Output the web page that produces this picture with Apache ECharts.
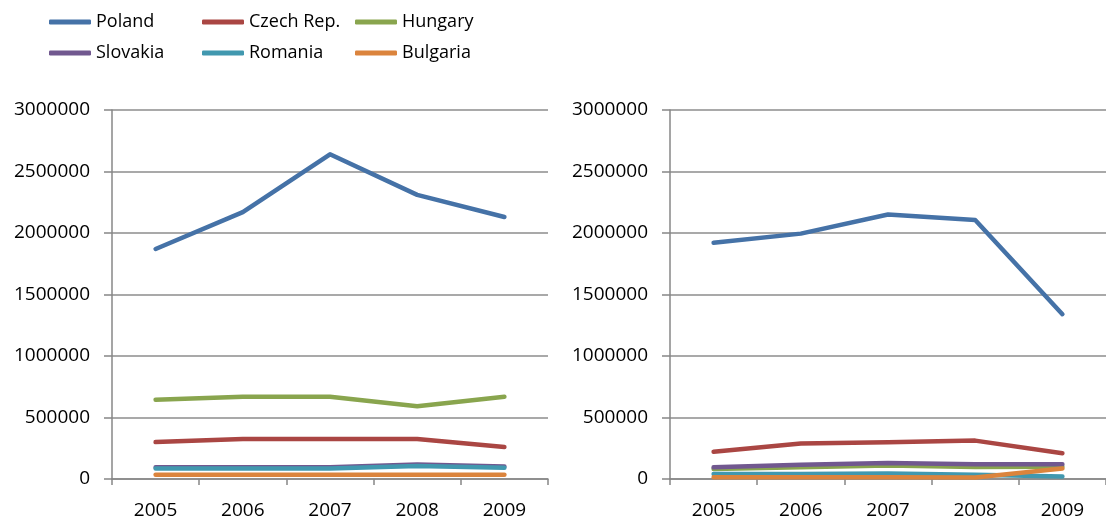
<!DOCTYPE html>
<html>
<head>
<meta charset="utf-8">
<script src="https://cdn.jsdelivr.net/npm/echarts@6/dist/echarts.min.js"></script>
<style>html,body{margin:0;padding:0;background:#fff}#c{width:1106px;height:520px}</style>
</head>
<body>
<div id="c"></div>
<script>
const years = ['2005', '2006', '2007', '2008', '2009'];
const countries = ['Poland', 'Czech Rep.', 'Hungary', 'Slovakia', 'Romania', 'Bulgaria'];
const colors = ['#4572A7', '#AA4643', '#89A54E', '#71588F', '#4198AF', '#DB843D'];

// Left panel
const leftPoland   = [1870000, 2170000, 2640000, 2310000, 2130000];
const leftCzech    = [300000, 325000, 325000, 325000, 260000];
const leftHungary  = [645000, 668000, 668000, 592000, 668000];
const leftSlovakia = [95000, 95000, 95000, 118000, 102000];
const leftRomania  = [85000, 85000, 85000, 105000, 92000];
const leftBulgaria = [35000, 35000, 35000, 35000, 35000];

// Right panel
const rightPoland   = [1920000, 1995000, 2150000, 2105000, 1340000];
const rightCzech    = [222000, 288000, 298000, 312000, 210000];
const rightHungary  = [82000, 95000, 110000, 98000, 100000];
const rightSlovakia = [95000, 115000, 130000, 120000, 120000];
const rightRomania  = [40000, 40000, 45000, 35000, 20000];
const rightBulgaria = [15000, 15000, 15000, 12000, 85000];

const yTicks = [0, 500000, 1000000, 1500000, 2000000, 2500000, 3000000];

const leftData = [leftPoland, leftCzech, leftHungary, leftSlovakia, leftRomania, leftBulgaria];
const rightData = [rightPoland, rightCzech, rightHungary, rightSlovakia, rightRomania, rightBulgaria];

const FONT = 'Open Sans';
const axisGray = '#878787';

function xAxis(gi) {
  return {
    type: 'category', gridIndex: gi, data: years, boundaryGap: true,
    axisLine: { lineStyle: { color: axisGray, width: 1.5 } },
    axisTick: { show: true, length: 6, inside: false, lineStyle: { color: axisGray, width: 1.5 } },
    axisLabel: { color: '#000', fontSize: 19, fontFamily: FONT, margin: 22 },
    splitLine: { show: false }
  };
}
function yAxis(gi) {
  return {
    type: 'value', gridIndex: gi, min: 0, max: yTicks[yTicks.length - 1], interval: yTicks[1] - yTicks[0],
    axisLine: { show: true, lineStyle: { color: axisGray, width: 1.5 } },
    axisTick: { show: true, length: 8, lineStyle: { color: axisGray, width: 1.5 } },
    axisLabel: { color: '#000', fontSize: 19, fontFamily: FONT, margin: 22, formatter: v => String(v) },
    splitLine: { show: true, lineStyle: { color: '#8c8c8c', width: 1.5 } }
  };
}

const series = [];
[leftData, rightData].forEach((set, gi) => {
  set.forEach((vals, i) => {
    series.push({
      name: countries[i], type: 'line', xAxisIndex: gi, yAxisIndex: gi,
      data: vals, symbol: 'none', showSymbol: false,
      lineStyle: { color: colors[i], width: 4.5, cap: 'round', join: 'round' },
      itemStyle: { color: colors[i] },
      z: 10 + i, animation: false
    });
  });
});

function legend(left, names) {
  return {
    orient: 'vertical', left: left, top: 12, padding: 0, data: names,
    icon: 'roundRect', itemWidth: 42, itemHeight: 5, itemGap: 11,
    textStyle: { color: '#000', fontSize: 18, fontFamily: FONT, lineHeight: 20 },
    selectedMode: false
  };
}

const chart = echarts.init(document.getElementById('c'), null, { renderer: 'canvas' });
chart.setOption({
  animation: false,
  color: colors,
  legend: [
    legend(49, ['Poland', 'Slovakia']),
    legend(202, ['Czech Rep.', 'Romania']),
    legend(355, ['Hungary', 'Bulgaria'])
  ],
  grid: [
    { left: 112, top: 110, width: 436, height: 369 },
    { left: 670, top: 110, width: 436, height: 369 }
  ],
  xAxis: [xAxis(0), xAxis(1)],
  yAxis: [yAxis(0), yAxis(1)],
  series: series
});
</script>
</body>
</html>
